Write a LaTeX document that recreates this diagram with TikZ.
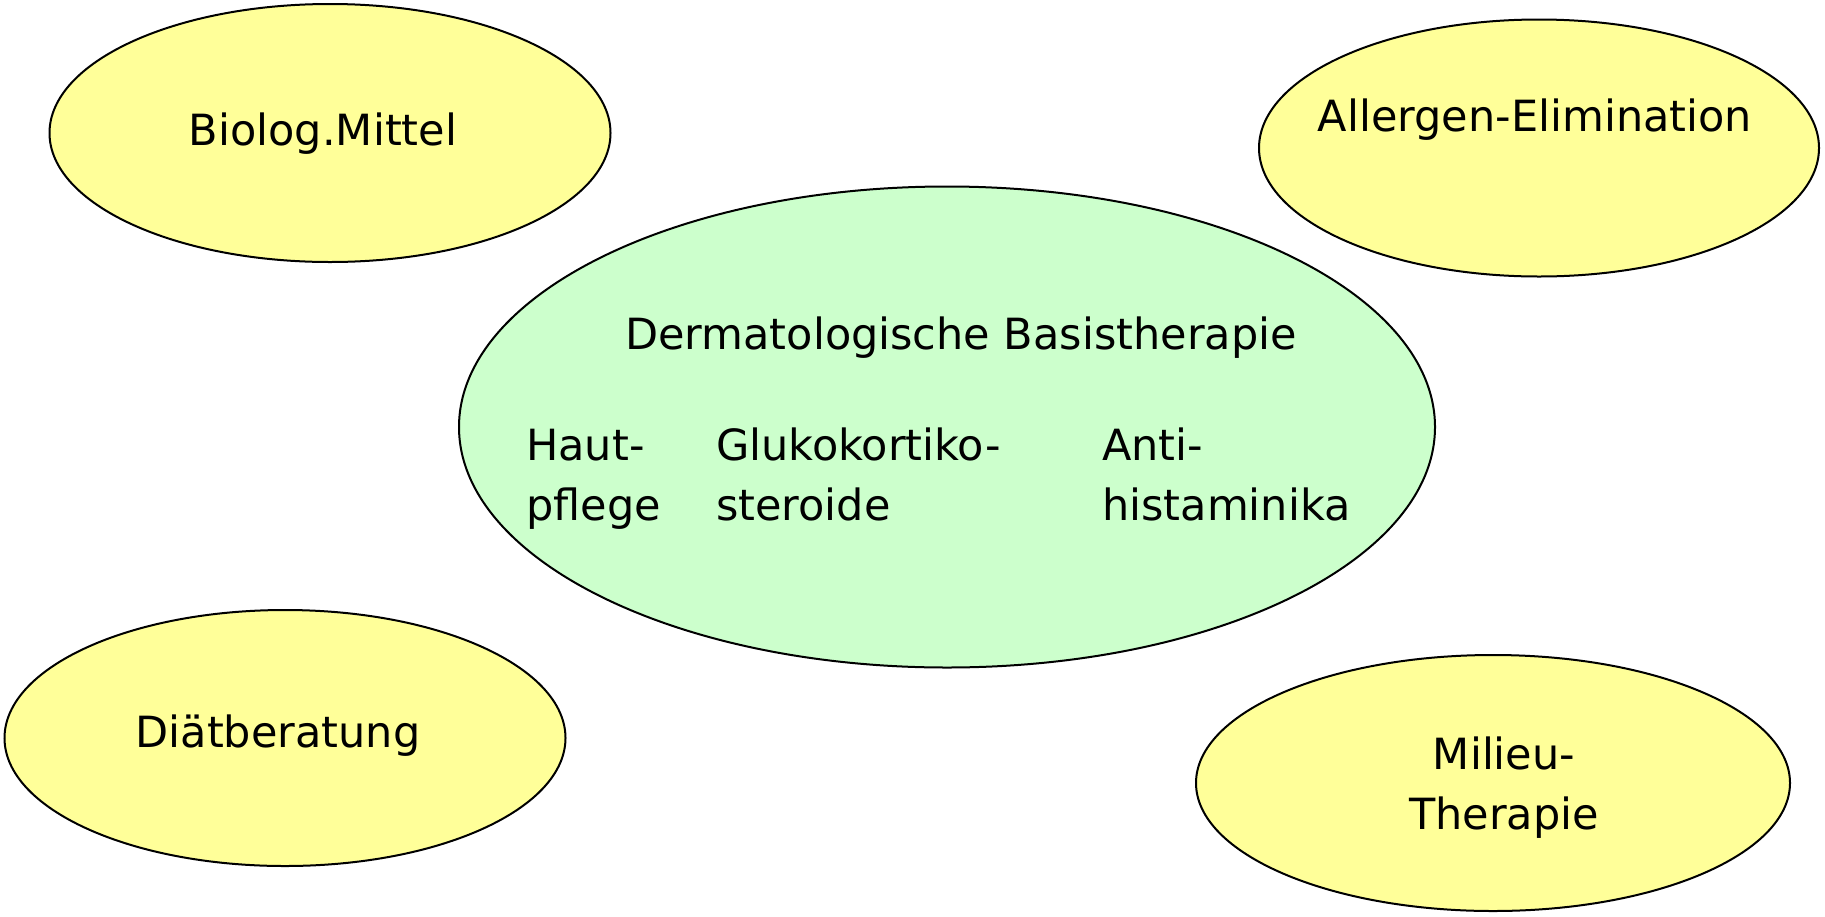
\documentclass[tikz,border=0pt]{standalone}
\usepackage{fontspec}
\setmainfont{DejaVu Sans}
\usetikzlibrary{shapes.geometric}
\definecolor{ybox}{HTML}{FFFF99}
\definecolor{gbox}{HTML}{CCFFCC}
\begin{document}
\begin{tikzpicture}[x=1pt,y=-1pt,
  blob/.style={ellipse,draw=black,line width=2pt,inner sep=0pt},
  lbl/.style={inner sep=0pt,font=\fontsize{43}{60}\selectfont},
  lblL/.style={lbl,anchor=base west,align=left}]
\useasboundingbox (0,0) rectangle (1825,916);
\node[blob,fill=ybox,minimum width=561pt,minimum height=258pt] (bio) at (330,133) {};
\node[blob,fill=ybox,minimum width=560pt,minimum height=257pt] (all) at (1539,148) {};
\node[blob,fill=gbox,minimum width=976pt,minimum height=481pt] (derm) at (947,427) {};
\node[blob,fill=ybox,minimum width=561pt,minimum height=256pt] (diat) at (285,738) {};
\node[blob,fill=ybox,minimum width=594pt,minimum height=256pt] (mil) at (1493,783) {};
\node[lbl] (tbio) at (323,134) {Biolog.Mittel};
\node[lbl] (tall) at (1535,120) {Allergen-Elimination};
\node[lbl] (tdiat) at (278,736) {Diätberatung};
\node[lbl,align=center,anchor=base] (tmil) at (1504,829) {Milieu-\\Therapie};
\node[lbl,anchor=base] (tderm) at (961,349) {Dermatologische Basistherapie};
\node[lblL] (thaut) at (526,520) {Haut-\\pflege};
\node[lblL] (tgluk) at (716,520) {Glukokortiko-\\steroide};
\node[lblL] (tanti) at (1102,520) {Anti-\\histaminika};
\end{tikzpicture}
\end{document}
